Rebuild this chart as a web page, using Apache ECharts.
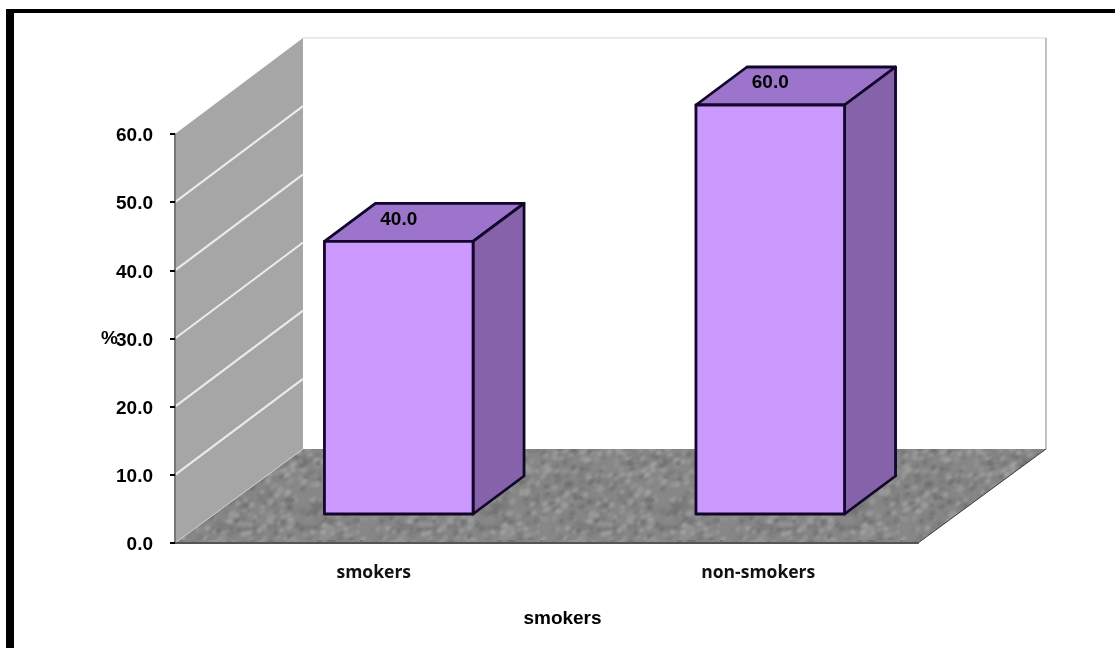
<!DOCTYPE html>
<html>
<head>
<meta charset="utf-8">
<style>html,body{margin:0;padding:0;background:#fff}#chart{width:1115px;height:648px}</style>
<script src="https://cdn.jsdelivr.net/npm/echarts@6/dist/echarts.min.js"></script>
</head>
<body>
<div id="chart"></div>
<script>
// Share of smokers and non-smokers, in percent
var categories = ['smokers', 'non-smokers'];
var percentValues = [40.0, 60.0];
var valueTicks = [10, 20, 30, 40, 50, 60];
var valueAxisTitle = '%';
var categoryAxisTitle = 'smokers';

// Oblique projection of the box: how far the back of the floor sits from its front edge
var DEPTH_X = 128, DEPTH_Y = 94;
// The walls lean a touch more than the floor, so their upper ends rise further
var WALL_RISE = 96;
// Where the bars stand inside that depth, and how deep they are
var BAR_FRONT_X = 38, BAR_FRONT_Y = 29, BAR_DEPTH_X = 51, BAR_DEPTH_Y = 38;
var BAR_WIDTH_RATIO = 0.4;

// Speckled carpet fill for the floor, built from a fixed hash so it is the same on every load
function floorTexture() {
  var size = 180, c = document.createElement('canvas');
  c.width = c.height = size;
  var g = c.getContext('2d');
  g.fillStyle = '#878787';
  g.fillRect(0, 0, size, size);
  g.filter = 'blur(1.6px)';
  var tones = ['#6e6e6e', '#9c9c9c', '#787878', '#a2a2a2', '#808080', '#949494'];
  for (var i = 0; i < 1100; i++) {
    var a = Math.sin(i * 12.9898) * 43758.5453, b = Math.sin(i * 78.233) * 24634.6345;
    a -= Math.floor(a); b -= Math.floor(b);
    g.fillStyle = tones[i % tones.length];
    g.beginPath();
    g.ellipse(a * size, b * size, 3.2, 2, -0.6, 0, Math.PI * 2);
    g.fill();
  }
  return c;
}
var carpet = floorTexture();

function renderRoom(params, api) {
  var box = params.coordSys;
  var x0 = box.x, y0 = box.y + box.height, w = box.width;
  var wallTop = api.coord([0, valueTicks[valueTicks.length - 1]])[1];
  var backTop = wallTop - WALL_RISE, backBottom = y0 - DEPTH_Y, backL = x0 + DEPTH_X, backR = x0 + w + DEPTH_X;
  var children = [
    { type: 'polygon', shape: { points: [[backL, backTop], [backR, backTop], [backR, backBottom], [backL, backBottom]] },
      style: { fill: '#ffffff', stroke: null } },
    { type: 'line', shape: { x1: backL, y1: backTop, x2: backR, y2: backTop },
      style: { stroke: '#e2e2e2', lineWidth: 1.5 } },
    { type: 'line', shape: { x1: backR, y1: backTop, x2: backR, y2: backBottom },
      style: { stroke: '#c0c0c0', lineWidth: 2 } },
    { type: 'polygon', shape: { points: [[x0, wallTop], [backL, backTop], [backL, backBottom], [x0, y0]] },
      style: { fill: '#a6a6a6', stroke: null } }
  ];
  valueTicks.slice(0, -1).forEach(function (tick) {
    var y = api.coord([0, tick])[1];
    children.push({ type: 'line',
      shape: { x1: x0, y1: y, x2: backL, y2: y - WALL_RISE },
      style: { stroke: '#ececec', lineWidth: 2 } });
  });
  children.push({ type: 'polygon', shape: { points: [[x0, y0], [x0 + w, y0], [backR, backBottom], [backL, backBottom]] },
    style: { fill: { image: carpet, repeat: 'repeat' }, stroke: null } });
  children.push({ type: 'line',
    shape: { x1: x0 + w, y1: y0, x2: backR, y2: backBottom },
    style: { stroke: '#3a3a3a', lineWidth: 1 } });
  children.push({ type: 'line',
    shape: { x1: x0, y1: y0, x2: backL, y2: backBottom },
    style: { stroke: '#d0d0d0', lineWidth: 1 } });
  return { type: 'group', children: children };
}

var EDGE = { stroke: '#12062a', lineWidth: 2.8, lineJoin: 'round' };

function renderBar(params, api) {
  var top = api.coord([api.value(0), api.value(1)]);
  var base = api.coord([api.value(0), 0]);
  var half = api.size([1, 0])[0] * BAR_WIDTH_RATIO / 2;
  var l = top[0] + BAR_FRONT_X - half, r = top[0] + BAR_FRONT_X + half;
  var t = top[1] - BAR_FRONT_Y, b = base[1] - BAR_FRONT_Y;
  var dx = BAR_DEPTH_X, dy = BAR_DEPTH_Y;
  return { type: 'group', children: [
    { type: 'polygon', shape: { points: [[l, t], [r, t], [r + dx, t - dy], [l + dx, t - dy]] },
      style: Object.assign({ fill: '#9c74cb' }, EDGE) },
    { type: 'polygon', shape: { points: [[r, t], [r + dx, t - dy], [r + dx, b - dy], [r, b]] },
      style: Object.assign({ fill: '#8562a9' }, EDGE) },
    { type: 'rect', shape: { x: l, y: t, width: r - l, height: b - t },
      style: Object.assign({ fill: '#cc99ff' }, EDGE) },
    { type: 'text', x: (l + r) / 2, y: t - 22,
      style: { text: api.value(1).toFixed(1), fill: '#000', align: 'center', verticalAlign: 'middle',
        font: 'bold 19px "Liberation Sans"' } }
  ] };
}

var chart = echarts.init(document.getElementById('chart'), null, { renderer: 'canvas' });
chart.setOption({
  animation: false,
  backgroundColor: '#ffffff',
  graphic: [
    { type: 'rect', left: 6, top: 9, shape: { width: 8, height: 639 }, style: { fill: '#000' }, z: 10 },
    { type: 'rect', left: 6, top: 9, shape: { width: 1109, height: 4 }, style: { fill: '#000' }, z: 10 }
  ],
  grid: { left: 175, top: 134, width: 743, height: 409 },
  xAxis: {
    type: 'category',
    data: [
      { value: categories[0], textStyle: { padding: [0, 0, 0, 26] } },
      { value: categories[1], textStyle: { padding: [0, 0, 0, 52] } }
    ],
    name: categoryAxisTitle,
    nameLocation: 'middle',
    nameGap: 66,
    nameMoveOverlap: false,
    nameTextStyle: { color: '#000', fontWeight: 'bold', fontSize: 19, fontFamily: 'Liberation Sans', padding: [0, 0, 0, 32] },
    axisLine: { show: true, lineStyle: { color: '#555', width: 2 } },
    axisTick: { show: false },
    axisLabel: { color: '#111', fontWeight: 'bold', fontSize: 17.5, fontFamily: 'Open Sans', margin: 21 },
    z: 5
  },
  yAxis: {
    type: 'value',
    min: 0, max: 60, interval: 10,
    name: valueAxisTitle,
    nameLocation: 'middle',
    nameRotate: 0,
    nameGap: 57,
    nameMoveOverlap: false,
    nameTextStyle: { color: '#000', fontWeight: 'bold', fontSize: 19, fontFamily: 'Liberation Sans' },
    axisLine: { show: true, lineStyle: { color: '#777', width: 2 } },
    axisTick: { show: true, length: 5, lineStyle: { color: '#000', width: 2 } },
    axisLabel: { color: '#000', fontWeight: 'bold', fontSize: 19, fontFamily: 'Liberation Sans', margin: 22,
      verticalAlign: 'top', lineHeight: 4,
      formatter: function (v) { return v.toFixed(1); } },
    splitLine: { show: false },
    z: 5
  },
  series: [
    { type: 'custom', name: 'room', data: [[0, 0]], renderItem: renderRoom, clip: false, silent: true, z: 1 },
    { type: 'custom', name: 'share',
      data: percentValues.map(function (v, i) { return [i, v]; }),
      encode: { x: 0, y: 1 }, renderItem: renderBar, clip: false, z: 2 }
  ]
});
</script>
</body>
</html>
